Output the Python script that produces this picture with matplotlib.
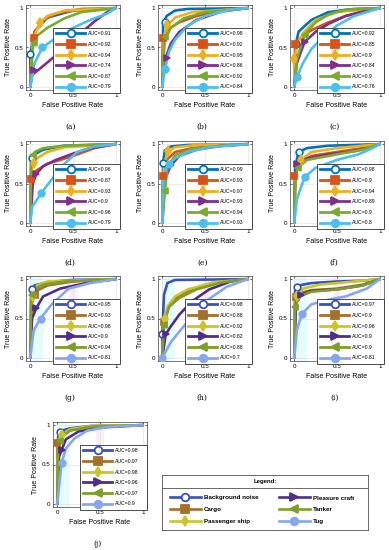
import matplotlib
matplotlib.use("Agg")
import matplotlib.pyplot as plt
from matplotlib.lines import Line2D

plt.rcParams["font.family"] = ["Liberation Sans", "DejaVu Sans"]

CLASSES = ["Background noise", "Cargo", "Passenger ship", "Pleasure craft", "Tanker", "Tug"]
MARKERS = ["o", "s", "d", ">", "<", "o"]
COLORS_1 = ["#0072BD", "#D95319", "#EDB120", "#7E2F8E", "#77AC30", "#4DBEEE"]
COLORS_2 = ["#3852B8", "#A5702A", "#CCC52A", "#4E2D8C", "#7E9E2C", "#86A6F0"]
PANELS = ["(a)", "(b)", "(c)", "(d)", "(e)", "(f)", "(g)", "(h)", "(i)", "(j)"]

# AUC values per panel, class order as CLASSES
AUC_A = [0.91, 0.92, 0.94, 0.74, 0.87, 0.79]
AUC_B = [0.98, 0.92, 0.95, 0.86, 0.92, 0.84]
AUC_C = [0.92, 0.85, 0.9, 0.84, 0.9, 0.76]
AUC_D = [0.96, 0.87, 0.93, 0.9, 0.96, 0.79]
AUC_E = [0.99, 0.93, 0.97, 0.93, 0.94, 0.93]
AUC_F = [0.98, 0.9, 0.94, 0.89, 0.9, 0.8]
AUC_G = [0.95, 0.93, 0.98, 0.9, 0.94, 0.81]
AUC_H = [0.98, 0.88, 0.92, 0.82, 0.88, 0.7]
AUC_I = [0.97, 0.9, 0.96, 0.9, 0.9, 0.81]
AUC_J = [0.98, 0.97, 0.98, 0.96, 0.97, 0.9]

# ROC points (FPR, TPR), one list per class
ROC_A = [
    [(0, 0), (0.0, 0.42), (0.05, 0.7), (0.2, 0.88), (0.5, 0.97), (1, 1)],
    [(0, 0), (0.02, 0.5), (0.05, 0.7), (0.15, 0.85), (0.3, 0.93), (0.6, 0.99), (1, 1)],
    [(0, 0), (0.03, 0.6), (0.11, 0.81), (0.2, 0.9), (0.4, 0.97), (1, 1)],
    [(0, 0), (0.02, 0.15), (0.1, 0.22), (0.3, 0.4), (0.5, 0.6), (0.75, 0.83), (0.9, 0.95), (1, 1)],
    [(0, 0), (0.03, 0.5), (0.08, 0.65), (0.2, 0.75), (0.4, 0.87), (0.6, 0.95), (1, 1)],
    [(0, 0), (0.05, 0.3), (0.14, 0.5), (0.3, 0.62), (0.5, 0.75), (0.7, 0.85), (0.9, 0.93), (1, 1)],
]
ROC_B = [
    [(0, 0), (0.01, 0.8), (0.05, 0.9), (0.15, 0.97), (0.3, 0.99), (1, 1)],
    [(0, 0), (0.01, 0.6), (0.05, 0.72), (0.2, 0.82), (0.4, 0.9), (0.7, 0.97), (1, 1)],
    [(0, 0), (0.02, 0.65), (0.06, 0.78), (0.15, 0.88), (0.35, 0.95), (1, 1)],
    [(0, 0), (0.02, 0.3), (0.05, 0.4), (0.1, 0.55), (0.2, 0.7), (0.4, 0.85), (0.7, 0.96), (1, 1)],
    [(0, 0), (0.01, 0.3), (0.03, 0.6), (0.1, 0.75), (0.25, 0.87), (0.5, 0.95), (1, 1)],
    [(0, 0), (0.03, 0.22), (0.08, 0.45), (0.15, 0.6), (0.3, 0.78), (0.5, 0.9), (0.8, 0.98), (1, 1)],
]
ROC_C = [
    [(0, 0), (0.02, 0.55), (0.05, 0.7), (0.1, 0.75), (0.2, 0.85), (0.4, 0.95), (0.7, 0.99), (1, 1)],
    [(0, 0), (0.01, 0.55), (0.05, 0.6), (0.2, 0.72), (0.4, 0.82), (0.6, 0.9), (0.85, 0.97), (1, 1)],
    [(0, 0), (0.0, 0.35), (0.04, 0.55), (0.1, 0.68), (0.25, 0.85), (0.5, 0.95), (1, 1)],
    [(0, 0), (0.03, 0.3), (0.12, 0.57), (0.25, 0.7), (0.4, 0.8), (0.6, 0.9), (0.85, 0.97), (1, 1)],
    [(0, 0), (0.03, 0.35), (0.12, 0.66), (0.25, 0.82), (0.4, 0.92), (0.6, 0.98), (1, 1)],
    [(0, 0), (0.03, 0.12), (0.1, 0.3), (0.2, 0.48), (0.35, 0.65), (0.5, 0.78), (0.7, 0.9), (1, 1)],
]
ROC_D = [
    [(0, 0), (0.01, 0.8), (0.05, 0.87), (0.15, 0.93), (0.4, 0.98), (1, 1)],
    [(0, 0), (0.01, 0.55), (0.05, 0.65), (0.2, 0.75), (0.5, 0.85), (0.75, 0.95), (1, 1)],
    [(0, 0), (0.02, 0.7), (0.08, 0.82), (0.2, 0.9), (0.4, 0.96), (1, 1)],
    [(0, 0), (0.03, 0.5), (0.07, 0.62), (0.15, 0.72), (0.3, 0.8), (0.5, 0.88), (0.7, 0.95), (1, 1)],
    [(0, 0), (0.01, 0.8), (0.05, 0.9), (0.15, 0.95), (0.4, 0.98), (1, 1)],
    [(0, 0), (0.02, 0.2), (0.13, 0.38), (0.25, 0.55), (0.4, 0.75), (0.55, 0.9), (0.75, 0.97), (1, 1)],
]
ROC_E = [
    [(0, 0), (0.01, 0.76), (0.03, 0.92), (0.1, 0.97), (0.3, 0.99), (1, 1)],
    [(0, 0), (0.01, 0.6), (0.05, 0.8), (0.15, 0.9), (0.35, 0.95), (0.7, 0.98), (1, 1)],
    [(0, 0), (0.02, 0.75), (0.07, 0.91), (0.15, 0.96), (0.4, 0.99), (1, 1)],
    [(0, 0), (0.03, 0.55), (0.1, 0.73), (0.2, 0.85), (0.4, 0.93), (0.7, 0.98), (1, 1)],
    [(0, 0), (0.03, 0.4), (0.06, 0.7), (0.15, 0.86), (0.35, 0.94), (0.7, 0.98), (1, 1)],
    [(0, 0), (0.01, 0.5), (0.05, 0.72), (0.15, 0.82), (0.3, 0.9), (0.55, 0.96), (1, 1)],
]
ROC_F = [
    [(0, 0), (0.01, 0.7), (0.05, 0.9), (0.15, 0.95), (0.4, 0.98), (1, 1)],
    [(0, 0), (0.01, 0.6), (0.05, 0.75), (0.2, 0.85), (0.5, 0.9), (0.8, 0.95), (1, 1)],
    [(0, 0), (0.02, 0.65), (0.08, 0.8), (0.2, 0.9), (0.5, 0.95), (1, 1)],
    [(0, 0), (0.01, 0.6), (0.04, 0.75), (0.15, 0.82), (0.4, 0.87), (0.7, 0.91), (0.9, 0.96), (1, 1)],
    [(0, 0), (0.01, 0.55), (0.04, 0.7), (0.15, 0.8), (0.5, 0.87), (0.8, 0.93), (1, 1)],
    [(0, 0), (0.03, 0.3), (0.12, 0.58), (0.25, 0.7), (0.5, 0.8), (0.75, 0.87), (0.92, 0.95), (1, 1)],
]
ROC_G = [
    [(0, 0), (0.01, 0.85), (0.05, 0.92), (0.2, 0.96), (0.5, 0.99), (1, 1)],
    [(0, 0), (0.02, 0.7), (0.07, 0.85), (0.2, 0.92), (0.5, 0.97), (1, 1)],
    [(0, 0), (0.01, 0.7), (0.03, 0.78), (0.08, 0.92), (0.2, 0.97), (1, 1)],
    [(0, 0), (0.02, 0.5), (0.07, 0.63), (0.15, 0.78), (0.35, 0.88), (0.7, 0.96), (1, 1)],
    [(0, 0), (0.01, 0.75), (0.05, 0.87), (0.15, 0.93), (0.4, 0.97), (1, 1)],
    [(0, 0), (0.04, 0.35), (0.12, 0.5), (0.25, 0.68), (0.45, 0.88), (0.7, 0.95), (1, 1)],
]
ROC_H = [
    [(0, 0), (0.0, 0.3), (0.02, 0.8), (0.06, 0.95), (0.15, 0.99), (1, 1)],
    [(0, 0), (0.02, 0.45), (0.06, 0.62), (0.15, 0.75), (0.3, 0.85), (0.6, 0.95), (1, 1)],
    [(0, 0), (0.02, 0.45), (0.06, 0.65), (0.15, 0.78), (0.3, 0.87), (0.6, 0.96), (1, 1)],
    [(0, 0), (0.04, 0.3), (0.1, 0.4), (0.2, 0.55), (0.35, 0.72), (0.55, 0.87), (0.8, 0.97), (1, 1)],
    [(0, 0), (0.02, 0.42), (0.08, 0.65), (0.2, 0.76), (0.4, 0.87), (0.7, 0.96), (1, 1)],
    [(0, 0), (0.1, 0.2), (0.25, 0.4), (0.4, 0.58), (0.55, 0.75), (0.75, 0.9), (1, 1)],
]
ROC_I = [
    [(0, 0), (0.01, 0.85), (0.05, 0.92), (0.2, 0.95), (0.5, 0.97), (0.8, 0.98), (1, 1)],
    [(0, 0), (0.01, 0.75), (0.05, 0.82), (0.2, 0.86), (0.5, 0.88), (0.8, 0.93), (1, 1)],
    [(0, 0), (0.01, 0.7), (0.03, 0.78), (0.1, 0.88), (0.3, 0.93), (0.6, 0.96), (1, 1)],
    [(0, 0), (0.02, 0.7), (0.08, 0.8), (0.2, 0.85), (0.5, 0.87), (0.8, 0.92), (1, 1)],
    [(0, 0), (0.01, 0.65), (0.06, 0.78), (0.2, 0.84), (0.5, 0.87), (0.8, 0.92), (1, 1)],
    [(0, 0), (0.03, 0.35), (0.09, 0.56), (0.2, 0.68), (0.4, 0.74), (0.6, 0.78), (0.85, 0.88), (1, 1)],
]
ROC_J = [
    [(0, 0), (0.01, 0.85), (0.05, 0.93), (0.15, 0.96), (0.4, 0.99), (1, 1)],
    [(0, 0), (0.0, 0.77), (0.04, 0.87), (0.15, 0.94), (0.4, 0.98), (1, 1)],
    [(0, 0), (0.01, 0.8), (0.05, 0.88), (0.15, 0.95), (0.4, 0.99), (1, 1)],
    [(0, 0), (0.02, 0.6), (0.05, 0.68), (0.1, 0.82), (0.25, 0.92), (0.5, 0.97), (1, 1)],
    [(0, 0), (0.01, 0.7), (0.05, 0.85), (0.15, 0.93), (0.4, 0.98), (1, 1)],
    [(0, 0), (0.05, 0.52), (0.1, 0.7), (0.2, 0.83), (0.35, 0.93), (0.6, 0.98), (1, 1)],
]

# operating point marker on each curve (FPR, TPR)
MARK_A = [(0.0, 0.42), (0.04, 0.62), (0.11, 0.81), (0.04, 0.21), (0.04, 0.56), (0.14, 0.5)]
MARK_B = [(0.03, 0.83), (0.01, 0.62), (0.06, 0.78), (0.05, 0.37), (0.03, 0.63), (0.03, 0.23)]
MARK_C = [(0.02, 0.55), (0.01, 0.55), (0.0, 0.35), (0.12, 0.57), (0.12, 0.66), (0.03, 0.12)]
MARK_D = [(0.02, 0.82), (0.01, 0.56), (0.04, 0.76), (0.07, 0.62), (0.03, 0.86), (0.13, 0.38)]
MARK_E = [(0.01, 0.76), (0.01, 0.6), (0.07, 0.91), (0.1, 0.73), (0.03, 0.4), (0.08, 0.75)]
MARK_F = [(0.05, 0.9), (0.0, 0.6), (0.08, 0.8), (0.03, 0.75), (0.04, 0.7), (0.12, 0.58)]
MARK_G = [(0.02, 0.88), (0.05, 0.8), (0.03, 0.78), (0.07, 0.63), (0.02, 0.8), (0.12, 0.5)]
MARK_H = [(0.0, 0.3), (0.02, 0.45), (0.03, 0.5), (0.04, 0.3), (0.02, 0.42), (0.0, 0.0)]
MARK_I = [(0.03, 0.9), (0.02, 0.77), (0.03, 0.78), (0.08, 0.8), (0.01, 0.65), (0.09, 0.56)]
MARK_J = [(0.03, 0.91), (0.0, 0.77), (0.05, 0.88), (0.05, 0.68), (0.03, 0.8), (0.05, 0.52)]

# faint shaded FPR bands behind panels (g)-(j): (start, end, colour)
BANDS = [(0.0, 0.15, "#e6fbfb"), (0.45, 0.55, "#fdeef4")]

ALL_AUC = [AUC_A, AUC_B, AUC_C, AUC_D, AUC_E, AUC_F, AUC_G, AUC_H, AUC_I, AUC_J]
ALL_ROC = [ROC_A, ROC_B, ROC_C, ROC_D, ROC_E, ROC_F, ROC_G, ROC_H, ROC_I, ROC_J]
ALL_MARK = [MARK_A, MARK_B, MARK_C, MARK_D, MARK_E, MARK_F, MARK_G, MARK_H, MARK_I, MARK_J]

W, H = 389, 550
fig = plt.figure(figsize=(W / 100, H / 100), dpi=100)

# axes rectangles in pixels: left, top, width, height
LEFTS = [26, 158, 290]
TOPS = [5, 141, 276, 422]
AX_W, AX_H = 94, 85


def px_axes(left, top, w, h):
    return fig.add_axes([left / W, 1 - (top + h) / H, w / W, h / H])


def handle(color, marker, lw=2.0, ms=5.5):
    face = "white" if marker == "o" and color in (COLORS_1[0], COLORS_2[0]) else color
    return Line2D([], [], color=color, lw=lw, marker=marker, ms=ms,
                  mfc=face, mec=color, mew=1.3)


for i, label in enumerate(PANELS):
    if i < 9:
        r, c = divmod(i, 3)
        left = LEFTS[c]
    else:
        r, left = 3, 53
    ax = px_axes(left, TOPS[r], AX_W, AX_H)
    colors = COLORS_1 if i < 6 else COLORS_2

    if i >= 6:
        for x0, x1, col in BANDS:
            ax.axvspan(x0, x1, color=col, zorder=0, lw=0)

    handles = []
    for k in range(6):
        fpr = [p[0] for p in ALL_ROC[i][k]]
        tpr = [p[1] for p in ALL_ROC[i][k]]
        ax.plot(fpr, tpr, color=colors[k], lw=1.9, solid_capstyle="round",
                solid_joinstyle="round", zorder=2)
        mx, my = ALL_MARK[i][k]
        h = handle(colors[k], MARKERS[k])
        ax.plot([mx], [my], ls="none", marker=MARKERS[k], ms=4.8,
                mfc=h.get_markerfacecolor(), mec=colors[k], mew=1.2, zorder=3)
        handles.append(h)

    ax.set_xlim(-0.05, 1.05)
    ax.set_ylim(-0.04, 1.04)
    ax.set_xticks([0, 0.5, 1])
    ax.set_yticks([0, 0.5, 1])
    ax.set_xticklabels(["0", "0.5", "1"])
    ax.set_yticklabels(["0", "0.5", "1"])
    ax.tick_params(labelsize=4.5, length=1.5, width=0.4, direction="in",
                   top=True, right=True, pad=2)
    ax.grid(True, color="#dcdcdc", lw=0.4)
    ax.set_axisbelow(True)
    for s in ax.spines.values():
        s.set_linewidth(0.5)
        s.set_color("#404040")
    ax.set_xlabel("False Positive Rate", fontsize=5, labelpad=3)
    ax.set_ylabel("True Positive Rate", fontsize=5, labelpad=2)

    leg = ax.legend(handles, [f"AUC={v:g}" for v in ALL_AUC[i]],
                    loc="lower left", bbox_to_anchor=(0.29, -0.03, 0.71, 0.8),
                    mode="expand", fontsize=3.7, handlelength=5.6, numpoints=1,
                    labelspacing=1.1, borderpad=0.6, handletextpad=0.5,
                    borderaxespad=0.0, fancybox=False, framealpha=1,
                    edgecolor="#303030")
    leg.get_frame().set_linewidth(0.6)
    leg.set_zorder(5)

    bb = ax.get_position()
    fig.text(bb.x0 + bb.width * 0.47, bb.y0 - 37 / H, label, fontsize=5.5,
             ha="center", va="center", family=["DejaVu Serif"])

# shared class legend box
lax = px_axes(162, 475, 206, 55)
lax.set_xlim(0, 1)
lax.set_ylim(0, 1)
lax.set_xticks([])
lax.set_yticks([])
for s in lax.spines.values():
    s.set_linewidth(0.6)
    s.set_color("#505050")
lax.axhline(1 - 13 / 55, color="#505050", lw=0.6)
lax.text(0.5, 1 - 6.5 / 55, "Legend:", fontsize=4.3, fontweight="bold",
         ha="center", va="center")
big = [handle(COLORS_2[k], MARKERS[k], lw=1.9, ms=5.5) for k in range(6)]
lax.legend(big, CLASSES, ncol=2, loc="lower left",
           bbox_to_anchor=(0.01, 0.0), frameon=False,
           handlelength=5.0, numpoints=1, columnspacing=3.2,
           labelspacing=1.05, handletextpad=0.5,
           prop={"weight": "bold", "size": 4.5})

fig.savefig("out.png", dpi=100)
